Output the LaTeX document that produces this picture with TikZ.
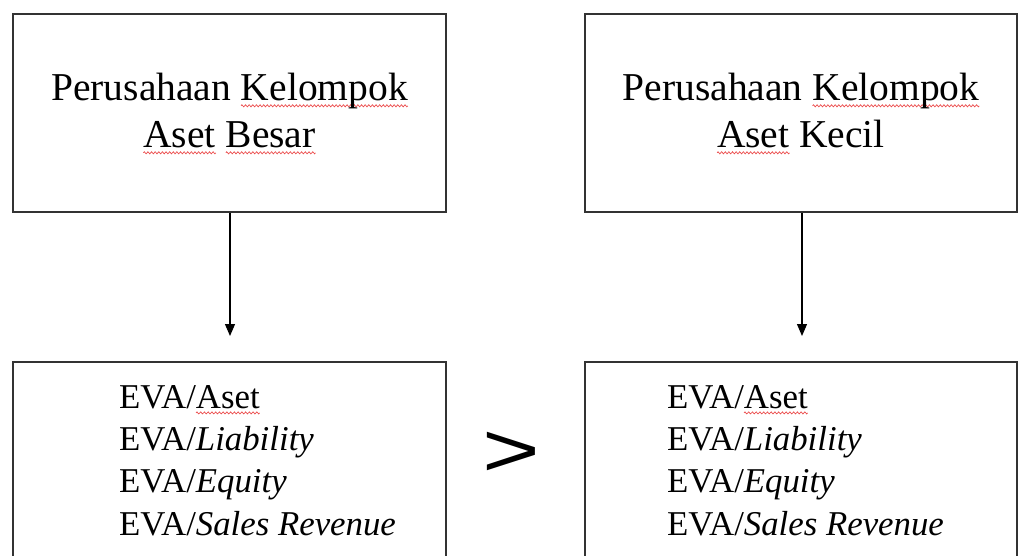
\documentclass[tikz,border=0pt]{standalone}
\usepackage{fontspec}
\setmainfont{Liberation Serif}
\newfontfamily\arialfont{Liberation Sans}
\usepackage{graphicx}
\usepackage{tikz}
\usetikzlibrary{arrows.meta}

\newsavebox{\gelombang}
\sbox{\gelombang}{\special{pdf:content q 0.92 0.3 0.3 RG 0.7 w 0 0 m 0.45 1.4 1.35 1.4 1.8 0 c 2.25 -1.4 3.15 -1.4 3.6 0 c S Q}\hskip3.6pt}
\newcommand{\salah}[1]{\setbox0=\hbox{#1}\rlap{\lower4.8pt\hbox to \wd0{\xleaders\copy\gelombang\hfil}}#1}

\tikzset{
    kotak/.style={draw=black!80, line width=1.6pt, inner sep=0pt},
    judul/.style={anchor=base, align=center, inner sep=0pt, font=\fontsize{39.5}{47}\selectfont},
    rasio/.style={anchor=base west, align=left, inner sep=0pt, font=\fontsize{34.8}{42.3}\selectfont},
    panah/.style={-{Triangle[length=12pt,width=10pt]}, line width=1.2pt}
}

\begin{document}
    \begin{tikzpicture}[x=1pt, y=-1pt]
        \clip (0,0) rectangle (1019,556);
        \node[kotak, minimum width=433pt, minimum height=198pt] (besar) at (229.5,113) {};
        \node[kotak, minimum width=432pt, minimum height=198pt] (kecil) at (801,113) {};
        \node[kotak, minimum width=433pt, minimum height=260pt] (rasioBesar) at (229.5,492) {};
        \node[kotak, minimum width=432pt, minimum height=260pt] (rasioKecil) at (801,492) {};
        \node[judul] (teksBesar) at (229.5,148) {Perusahaan \salah{Kelompok}\\\salah{Aset} \salah{Besar}};
        \node[judul] (teksKecil) at (801,148) {Perusahaan \salah{Kelompok}\\\salah{Aset} Kecil};
        \node[rasio] (isiBesar) at (119,535) {EVA/\salah{Aset}\\EVA/\textit{Liability}\\EVA/\textit{Equity}\\EVA/\textit{Sales Revenue}};
        \node[rasio] (isiKecil) at (667,535) {EVA/\salah{Aset}\\EVA/\textit{Liability}\\EVA/\textit{Equity}\\EVA/\textit{Sales Revenue}};
        \node[font=\arialfont\fontsize{95}{95}\selectfont, inner sep=0pt] (lebih) at (511,454) {\scalebox{1.04}[0.8]{>}};
        \coordinate (ujungBesar) at (230,336);
        \coordinate (ujungKecil) at (802,336);
        \draw[panah] (besar.south -| ujungBesar) -- (ujungBesar);
        \draw[panah] (kecil.south -| ujungKecil) -- (ujungKecil);
    \end{tikzpicture}
\end{document}
